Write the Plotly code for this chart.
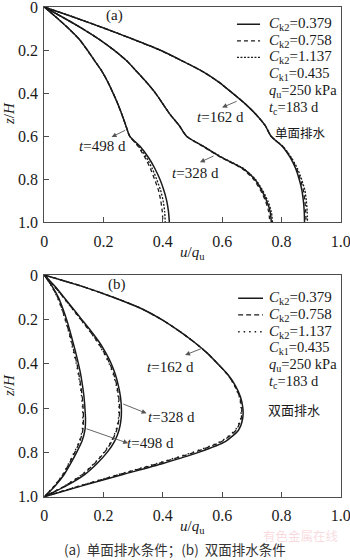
import plotly.graph_objects as go

# ---------------- data ----------------
Z = [0, 0.05, 0.1, 0.15, 0.2, 0.25, 0.3, 0.35, 0.4, 0.45, 0.5, 0.55, 0.6,
     0.65, 0.7, 0.75, 0.8, 0.85, 0.9, 0.95, 1.0]

# panel (a) single-face drainage, u/qu by depth
a_t162_k0379 = [0, 0.105, 0.205, 0.300, 0.390, 0.465, 0.535, 0.590, 0.635, 0.678, 0.715, 0.745, 0.765,
                0.805, 0.830, 0.848, 0.860, 0.869, 0.874, 0.877, 0.878]
a_t162_k0758 = [0, 0.105, 0.205, 0.300, 0.390, 0.465, 0.535, 0.590, 0.635, 0.678, 0.715, 0.745, 0.765,
                0.806, 0.832, 0.851, 0.864, 0.874, 0.879, 0.882, 0.883]
a_t162_k1137 = [0, 0.105, 0.205, 0.300, 0.390, 0.465, 0.535, 0.590, 0.635, 0.678, 0.715, 0.745, 0.765,
                0.807, 0.834, 0.854, 0.868, 0.879, 0.884, 0.887, 0.888]

a_t328_k0379 = [0, 0.065, 0.128, 0.185, 0.235, 0.278, 0.312, 0.345, 0.375, 0.400, 0.425, 0.455, 0.480,
                0.540, 0.600, 0.670, 0.710, 0.733, 0.750, 0.762, 0.766]
a_t328_k0758 = [0, 0.065, 0.128, 0.185, 0.235, 0.278, 0.312, 0.345, 0.375, 0.400, 0.425, 0.455, 0.480,
                0.538, 0.598, 0.667, 0.706, 0.729, 0.746, 0.757, 0.761]
a_t328_k1137 = [0, 0.065, 0.128, 0.185, 0.235, 0.278, 0.312, 0.345, 0.375, 0.400, 0.425, 0.455, 0.480,
                0.541, 0.602, 0.672, 0.712, 0.736, 0.754, 0.766, 0.770]

a_t498_k0379 = [0, 0.042, 0.082, 0.118, 0.145, 0.170, 0.195, 0.215, 0.232, 0.248, 0.262, 0.275, 0.288,
                0.325, 0.352, 0.373, 0.390, 0.403, 0.413, 0.419, 0.422]
a_t498_k0758 = [0, 0.042, 0.082, 0.118, 0.145, 0.170, 0.195, 0.215, 0.232, 0.248, 0.262, 0.275, 0.288,
                0.318, 0.340, 0.358, 0.372, 0.385, 0.393, 0.398, 0.400]
a_t498_k1137 = [0, 0.042, 0.082, 0.118, 0.145, 0.170, 0.195, 0.215, 0.232, 0.248, 0.262, 0.275, 0.288,
                0.321, 0.345, 0.364, 0.379, 0.392, 0.401, 0.406, 0.408]

# panel (b) double-face drainage
b_t162_k0379 = [0, 0.125, 0.232, 0.325, 0.395, 0.452, 0.503, 0.548, 0.585, 0.620, 0.645, 0.662, 0.670,
                0.669, 0.655, 0.612, 0.520, 0.400, 0.265, 0.130, 0]
b_t162_k0758 = [0, 0.125, 0.232, 0.325, 0.395, 0.452, 0.503, 0.548, 0.585, 0.619, 0.643, 0.659, 0.666,
                0.664, 0.647, 0.600, 0.505, 0.385, 0.253, 0.123, 0]
b_t162_k1137 = [0, 0.125, 0.232, 0.325, 0.395, 0.452, 0.503, 0.548, 0.585, 0.619, 0.642, 0.658, 0.664,
                0.662, 0.644, 0.596, 0.500, 0.380, 0.250, 0.121, 0]

b_t328_k0379 = [0, 0.035, 0.066, 0.096, 0.126, 0.156, 0.184, 0.207, 0.226, 0.240, 0.250, 0.257, 0.260,
                0.259, 0.252, 0.237, 0.212, 0.178, 0.136, 0.075, 0]
b_t328_k0758 = [0, 0.034, 0.064, 0.094, 0.123, 0.152, 0.179, 0.202, 0.221, 0.235, 0.245, 0.251, 0.254,
                0.252, 0.244, 0.228, 0.203, 0.170, 0.129, 0.071, 0]
b_t328_k1137 = [0, 0.033, 0.063, 0.093, 0.122, 0.151, 0.178, 0.200, 0.219, 0.233, 0.243, 0.249, 0.252,
                0.250, 0.242, 0.226, 0.201, 0.168, 0.127, 0.070, 0]

b_t498_k0379 = [0, 0.026, 0.047, 0.062, 0.075, 0.086, 0.096, 0.106, 0.115, 0.123, 0.129, 0.134, 0.137,
                0.139, 0.137, 0.127, 0.109, 0.089, 0.067, 0.037, 0]
b_t498_k0758 = [0, 0.025, 0.045, 0.059, 0.071, 0.082, 0.092, 0.101, 0.110, 0.117, 0.123, 0.128, 0.131,
                0.132, 0.130, 0.120, 0.103, 0.084, 0.063, 0.035, 0]
b_t498_k1137 = [0, 0.024, 0.044, 0.058, 0.070, 0.081, 0.090, 0.099, 0.108, 0.115, 0.121, 0.126, 0.129,
                0.130, 0.128, 0.118, 0.101, 0.082, 0.062, 0.034, 0]

TICKS = [0, 0.2, 0.4, 0.6, 0.8, 1.0]
TICK_LABELS = ["0", "0.2", "0.4", "0.6", "0.8", "1.0"]
LEGEND_LABELS = ["<i>C</i><sub>k2</sub>=0.379", "<i>C</i><sub>k2</sub>=0.758", "<i>C</i><sub>k2</sub>=1.137"]
PARAM_LABELS = ["<i>C</i><sub>k1</sub>=0.435", "<i>q</i><sub>u</sub>=250 kPa", "<i>t</i><sub>c</sub>=183 d"]
X_TITLE = "<i>u</i>/<i>q</i><sub>u</sub>"
Y_TITLE = "<i>z</i>/<i>H</i>"

# ---------------- styles ----------------
FONT = "Liberation Serif"
CJK = "Noto Sans CJK SC"
INK = "#1a1a1a"
AX = "#4d4d4d"
STYLE_A = [dict(dash="solid", width=1.5), dict(dash="4px,3px", width=1.3), dict(dash="2px,1.5px", width=1.3)]
STYLE_B = [dict(dash="solid", width=1.5), dict(dash="5px,3px", width=1.3), dict(dash="1.5px,4px", width=1.4)]

fig = go.Figure()

panels = [
    ("x", "y", STYLE_A, [[a_t162_k0379, a_t162_k0758, a_t162_k1137],
                         [a_t328_k0379, a_t328_k0758, a_t328_k1137],
                         [a_t498_k0379, a_t498_k0758, a_t498_k1137]]),
    ("x2", "y2", STYLE_B, [[b_t162_k0379, b_t162_k0758, b_t162_k1137],
                           [b_t328_k0379, b_t328_k0758, b_t328_k1137],
                           [b_t498_k0379, b_t498_k0758, b_t498_k1137]]),
]
for xa, ya, styles, groups in panels:
    for grp in groups:
        for k, u in enumerate(grp):
            fig.add_trace(go.Scatter(x=u, y=Z, mode="lines", xaxis=xa, yaxis=ya,
                                     line=dict(color=INK, shape="spline", smoothing=0.6, **styles[k]),
                                     showlegend=False, hoverinfo="skip"))

# ---------------- axes ----------------
def xax(anchor):
    return dict(domain=[0.1266, 0.9734], anchor=anchor, range=[0, 1], tickvals=TICKS, ticktext=TICK_LABELS,
                ticks="inside", ticklen=5, tickcolor=AX, showline=True, linecolor=AX, linewidth=1.2,
                mirror=True, showgrid=False, zeroline=False, ticklabeloverflow="allow",
                automargin=False, ticklabelstandoff=4,
                tickfont=dict(family=FONT, size=16, color=INK))

def yax(anchor, dom):
    return dict(domain=dom, anchor=anchor, range=[1, 0], tickvals=TICKS, ticktext=TICK_LABELS,
                ticks="inside", ticklen=5, tickcolor=AX, showline=True, linecolor=AX, linewidth=1.2,
                mirror=True, showgrid=False, zeroline=False, ticklabeloverflow="allow",
                automargin=False, ticklabelstandoff=2,
                tickfont=dict(family=FONT, size=16, color=INK))

fig.update_layout(
    width=350, height=560, autosize=False,
    margin=dict(l=0, r=0, t=0, b=0, autoexpand=False),
    paper_bgcolor="white", plot_bgcolor="white",
    xaxis=xax("y"), yaxis=yax("x", [0.6030, 0.9875]),
    xaxis2=xax("y2"), yaxis2=yax("x2", [0.1130, 0.5089]),
)

ann = []
shapes = []

def P(py):
    return 1 - py / 560.0

def txt(xr, yr, x, y, s, size=15, xanchor="center", family=FONT, color=INK, angle=0):
    ann.append(dict(xref=xr, yref=yr, x=x, y=y, text=s, showarrow=False, xanchor=xanchor,
                    yanchor="middle", textangle=angle, font=dict(family=family, size=size, color=color)))

def arrow(xr, yr, x0, y0, x1, y1):
    # tail on curve (x0,y0), head near the label (x1,y1)
    ann.append(dict(xref=xr, yref=yr, axref=xr, ayref=yr, x=x1, y=y1, ax=x0, ay=y0, text="",
                    showarrow=True, arrowhead=2, arrowsize=1.1, arrowwidth=0.9, arrowcolor="#555555"))

# axis titles
txt("paper", "paper", 192.5 / 350, P(253), X_TITLE)
txt("paper", "paper", 192.5 / 350, P(527), X_TITLE)
txt("paper", "paper", 9 / 350, P(114), Y_TITLE, angle=-90)
txt("paper", "paper", 9 / 350, P(386), Y_TITLE, angle=-90)

# panel (a) decorations
txt("x", "y", 0.238, 0.04, "(a)")
leg_rows_a = [0.080, 0.157, 0.234]
for k, lab in enumerate(LEGEND_LABELS):
    shapes.append(dict(type="line", xref="x", yref="y", x0=0.650, x1=0.728, y0=leg_rows_a[k], y1=leg_rows_a[k],
                       line=dict(color=INK, **STYLE_A[k])))
    txt("x", "y", 0.751, leg_rows_a[k], lab, xanchor="left")
for k, lab in enumerate(PARAM_LABELS):
    txt("x", "y", 0.751, 0.311 + 0.078 * k, lab, xanchor="left", size=14.5)
txt("x", "y", 0.863, 0.581, "单面排水", size=12.5, family=CJK)
arrow("x", "y", 0.654, 0.435, 0.600, 0.467)
txt("x", "y", 0.595, 0.513, "<i>t</i>=162 d")
arrow("x", "y", 0.576, 0.689, 0.525, 0.721)
txt("x", "y", 0.510, 0.771, "<i>t</i>=328 d")
arrow("x", "y", 0.278, 0.569, 0.227, 0.604)
txt("x", "y", 0.196, 0.647, "<i>t</i>=498 d")

# panel (b) decorations
txt("x2", "y2", 0.244, 0.045, "(b)")
leg_rows_b = [0.105, 0.180, 0.256]
for k, lab in enumerate(LEGEND_LABELS):
    shapes.append(dict(type="line", xref="x2", yref="y2", x0=0.654, x1=0.738, y0=leg_rows_b[k], y1=leg_rows_b[k],
                       line=dict(color=INK, **STYLE_B[k])))
    txt("x2", "y2", 0.750, leg_rows_b[k], lab, xanchor="left")
for k, lab in enumerate(PARAM_LABELS):
    txt("x2", "y2", 0.750, 0.331 + 0.075 * k, lab, xanchor="left", size=14.5)
txt("x2", "y2", 0.843, 0.606, "双面排水", size=13, family=CJK)
arrow("x2", "y2", 0.535, 0.329, 0.475, 0.361)
txt("x2", "y2", 0.426, 0.414, "<i>t</i>=162 d")
arrow("x2", "y2", 0.261, 0.579, 0.345, 0.624)
txt("x2", "y2", 0.429, 0.639, "<i>t</i>=328 d")
arrow("x2", "y2", 0.137, 0.691, 0.283, 0.759)
txt("x2", "y2", 0.358, 0.758, "<i>t</i>=498 d")

# caption + watermark
txt("paper", "paper", 0.86, P(535), "有色金属在线", size=12.5, family=CJK, color="rgba(235,150,160,0.35)")
txt("paper", "paper", 0.5, P(549), "(a)  单面排水条件；(b)  双面排水条件", size=13.5, family=CJK, color="#333333")

fig.update_layout(annotations=ann, shapes=shapes)
fig.write_html("out.html")
